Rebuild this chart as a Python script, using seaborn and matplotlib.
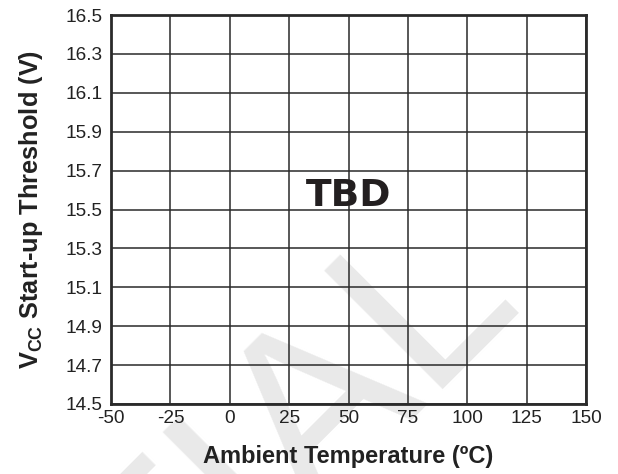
import matplotlib
matplotlib.use("Agg")
import matplotlib.pyplot as plt
import seaborn as sns
import pandas as pd

x_ticks = [-50, -25, 0, 25, 50, 75, 100, 125, 150]
y_ticks = [14.5, 14.7, 14.9, 15.1, 15.3, 15.5, 15.7, 15.9, 16.1, 16.3, 16.5]
x_label = "Ambient Temperature (ºC)"
y_label = r"V$_{\mathregular{CC}}$ Start-up Threshold (V)"
note_text = "TBD"
note_x = 50
note_y = 15.57
watermark = "CONFIDENTIAL"

sns.set_style("white")
plt.rcParams['font.family'] = ['Liberation Sans', 'DejaVu Sans']

fig = plt.figure(figsize=(6.18, 4.74), dpi=100)
ax = fig.add_axes([111/618, 1-404/474, 475/618, 389/474])
ax.patch.set_alpha(0)

# empty data frame plotted through seaborn (no measured series: TBD)
df = pd.DataFrame({"temp": pd.Series([], dtype=float), "v": pd.Series([], dtype=float)})
sns.lineplot(data=df, x="temp", y="v", ax=ax)

ax.set_xlim(x_ticks[0], x_ticks[-1])
ax.set_ylim(y_ticks[0], y_ticks[-1])
ax.set_xticks(x_ticks)
ax.set_yticks(y_ticks)
ax.set_xticklabels([str(t) for t in x_ticks])
ax.set_yticklabels([f"{t:.1f}" for t in y_ticks])
ax.tick_params(axis='x', length=0, labelsize=13.7, colors='#222222', pad=4)
ax.tick_params(axis='y', length=0, labelsize=13.7, colors='#222222', pad=6)
ax.grid(True, color='#2a2a2a', linewidth=1.1)
for s in ax.spines.values():
    s.set_color('#2a2a2a')
    s.set_linewidth(2.0)
    s.set_visible(True)

ax.set_xlabel(x_label, fontsize=17, fontweight='bold', color='#222222', labelpad=13)
ax.set_ylabel(y_label, fontsize=18.3, fontweight='bold', color='#222222', labelpad=15)

ax.text(note_x, note_y, note_text, fontsize=27, fontweight='heavy', color='#231f20',
        ha='center', va='center', family=['DejaVu Sans'])

fig.text(522/618, 1-298/474, watermark, fontsize=176, color='#e9e9e9', rotation=45,
         rotation_mode='anchor', ha='right', va='baseline', zorder=-1)

fig.savefig("out.png", dpi=100)
